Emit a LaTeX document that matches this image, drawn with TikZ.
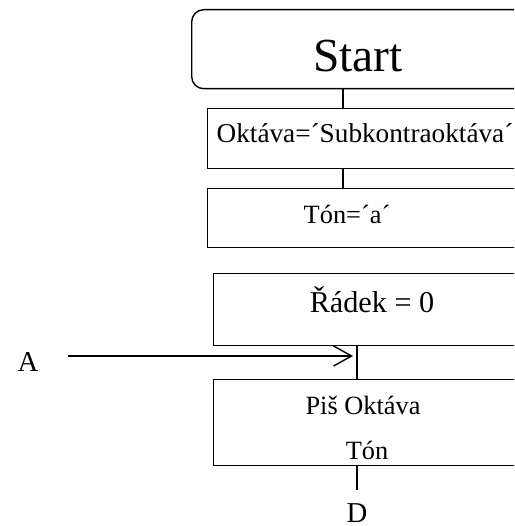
\documentclass[tikz,border=0pt]{standalone}
\usepackage{fontspec}
\setmainfont{Liberation Serif}
\usetikzlibrary{positioning, calc, arrows.meta}

\begin{document}
\begin{tikzpicture}[
    x=0.02cm, y=-0.02cm,
    % Block styles
    terminal/.style={
      rectangle, draw=black, line width=0.8pt, rounded corners=0.24cm,
      anchor=north west, inner sep=0pt
    },
    process/.style={
      rectangle, draw=black, line width=0.8pt,
      anchor=north west, inner sep=0pt
    },
    label/.style={anchor=base, inner sep=0pt},
    connector/.style={draw=black, line width=0.8pt},
  ]
  \useasboundingbox (0,0) rectangle (514,526);
  \clip (0,0) rectangle (514,526);

  % === Upper chain ===
  \node[terminal, minimum width=334*0.02cm, minimum height=79*0.02cm] (start) at (191,9) {};
  \node[label, font=\fontsize{27}{30}\selectfont] (starttxt) at (358,72) {Start};

  \node[process, minimum width=313*0.02cm, minimum height=60*0.02cm] (okt) at (207,108) {};
  \node[label, font=\fontsize{15.5}{18}\selectfont] (okttxt) at (365,143) {Oktáva=´Subkontraoktáva´};

  \node[process, minimum width=313*0.02cm, minimum height=59*0.02cm] (ton) at (207,188) {};
  \node[label, font=\fontsize{15}{18}\selectfont] (tontxt) at (347,224) {Tón=´a´};

  \coordinate (upaxis) at (343,0);
  \draw[connector] (start.south -| upaxis) -- (okt.north -| upaxis);
  \draw[connector] (okt.south -| upaxis) -- (ton.north -| upaxis);

  % === Lower chain ===
  \node[process, minimum width=314*0.02cm, minimum height=72*0.02cm] (radek) at (213,273) {};
  \node[label, font=\fontsize{17.2}{20}\selectfont] (radektxt) at (372,312) {Řádek = 0};

  \node[process, minimum width=314*0.02cm, minimum height=86*0.02cm] (pis) at (213,379) {};
  \node[label, font=\fontsize{15}{18}\selectfont] (pistxt) at (363,414) {Piš Oktáva};
  \node[label, font=\fontsize{15}{18}\selectfont] (pistxt2) at (367,459) {Tón};

  \coordinate (lowaxis) at (357,0);
  \draw[connector] (radek.south -| lowaxis) -- (pis.north -| lowaxis);

  % Entry A
  \node[label, font=\fontsize{16.4}{19}\selectfont] (entA) at (28,371) {A};
  \coordinate (arrowfrom) at (68,356);
  \coordinate (arrowto) at (353,356);
  \draw[connector, -{Straight Barb[length=0.36cm, width=0.4cm, line width=0.8pt]}] (arrowfrom) -- (arrowto);

  % Exit D
  \node[label, font=\fontsize{16.4}{19}\selectfont] (exitD) at (357,522) {D};
  \coordinate (exitend) at (357,490);
  \draw[connector] (pis.south -| lowaxis) -- (exitend);

\end{tikzpicture}
\end{document}
